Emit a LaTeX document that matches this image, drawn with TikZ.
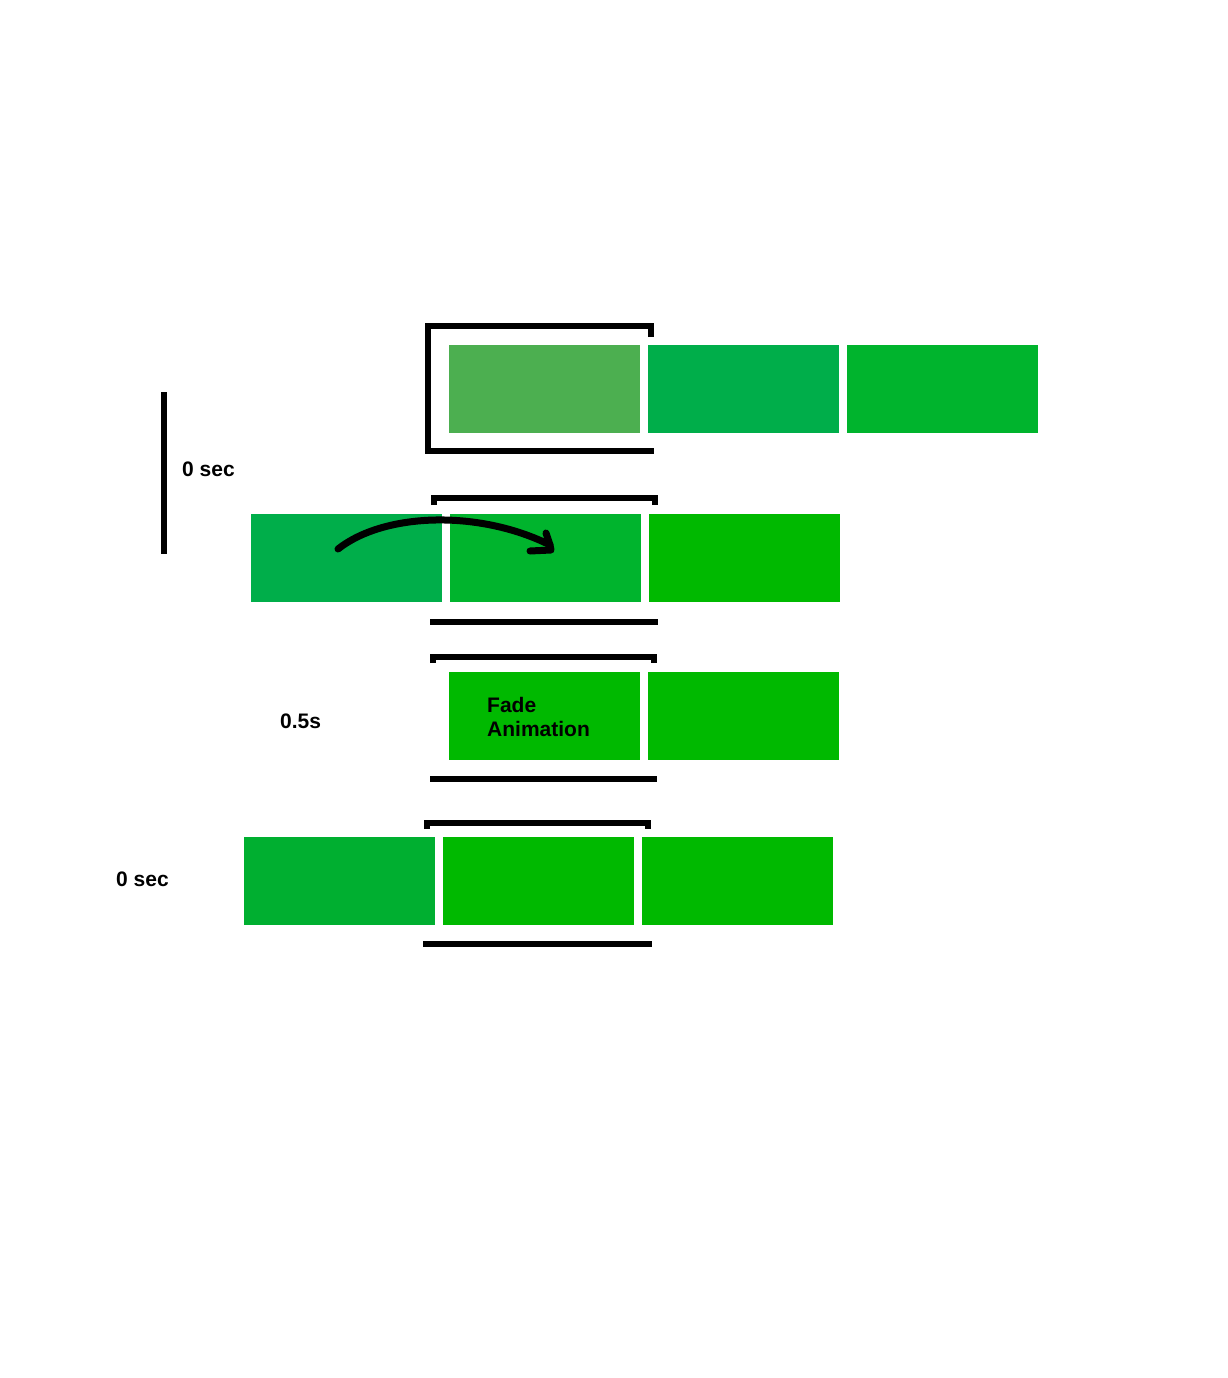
\documentclass[tikz,border=0pt]{standalone}
\usepackage{fontspec}
\setmainfont{Liberation Sans}

\definecolor{faded}{HTML}{4CAF50}
\definecolor{gA}{HTML}{00AE4A}
\definecolor{gB}{HTML}{00B42D}
\definecolor{gC}{HTML}{00B900}
\definecolor{gD}{HTML}{00AF30}

\tikzset{
  blk/.style={rectangle, inner sep=0pt, minimum width=191pt, minimum height=88pt, fill=#1},
  lbl/.style={inner sep=0pt, font=\fontsize{21}{24}\selectfont\bfseries},
  brk/.style={line width=6pt, black}
}

\begin{document}
\begin{tikzpicture}[x=1pt, y=-1pt]
    \useasboundingbox (0,0) rectangle (1227,1378);

    % first row
    \node[blk=faded] (A) at (544.5,389) {};
    \node[blk=gA] (B) at (743.5,389) {};
    \node[blk=gB] (C) at (942.5,389) {};
    \draw[brk] (651,337) -- (651,326) -- (428,326) -- (428,451) -- (654,451);

    % second row
    \node[blk=gA] (D) at (346.5,558) {};
    \node[blk=gB] (E) at (545.5,558) {};
    \node[blk=gC] (F) at (744.5,558) {};
    \draw[brk] (434,505) -- (434,498) -- (655,498) -- (655,505);
    \draw[brk] (430,622) -- (658,622);
    \coordinate (s) at (338,549);
    \coordinate (t) at (550,545);
    \draw[brk, line width=7pt, line cap=round, line join=round] (s) .. controls (385,512) and (480,510) .. (t);
    \draw[brk, line width=7pt, line cap=round, line join=round] (546,533) -- (t) -- (551,550) -- (530,551);

    \draw[brk] (164,392) -- (164,554);
    \node[lbl, anchor=west] (z1) at (182,469) {0 sec};

    % third row
    \node[blk=gC] (G) at (544.5,716) {};
    \node[blk=gC] (H) at (743.5,716) {};
    \draw[brk] (433,663) -- (433,657) -- (654,657) -- (654,663);
    \draw[brk] (430,779) -- (657,779);
    \node[lbl, anchor=west, align=left] (fade) at (487,717) {Fade\\Animation};
    \node[lbl, anchor=west] (half) at (280,721) {0.5s};

    % fourth row
    \node[blk=gD] (I) at (339.5,881) {};
    \node[blk=gC] (J) at (538.5,881) {};
    \node[blk=gC] (K) at (737.5,881) {};
    \draw[brk] (427,829) -- (427,823) -- (648,823) -- (648,829);
    \draw[brk] (423,944) -- (652,944);
    \node[lbl, anchor=west] (z2) at (116,879) {0 sec};
\end{tikzpicture}
\end{document}
